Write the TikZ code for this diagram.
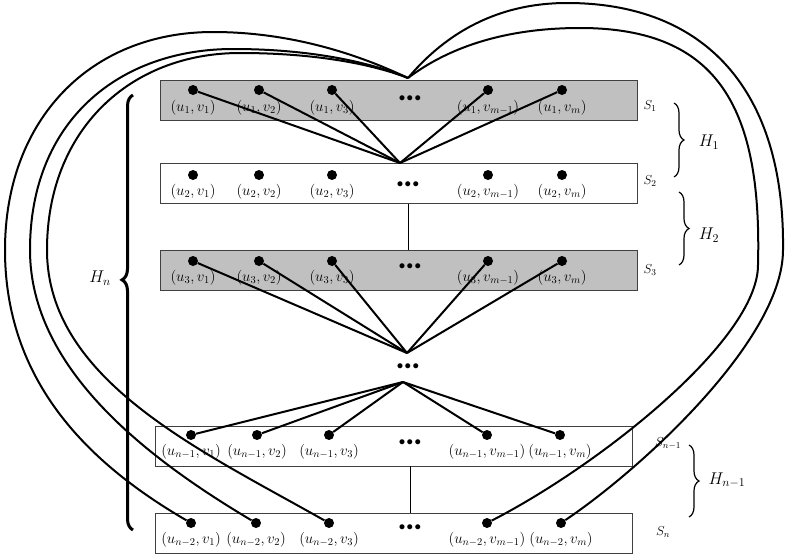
\documentclass[tikz,border=0pt]{standalone}
\usepackage{fix-cm}
\usetikzlibrary{positioning,decorations.pathreplacing}
\definecolor{rowgray}{RGB}{192,192,192}
\newcommand{\rowdots}{$\bullet$\kern1.5pt$\bullet$\kern1.5pt$\bullet$}
\tikzset{
  dot/.style={circle, fill=black, inner sep=0pt, minimum size=10pt},
  lbl/.style={font=\fontsize{15}{17}\selectfont, inner sep=0pt},
  slbl/.style={font=\fontsize{13}{15}\selectfont, inner sep=0pt},
  ell/.style={font=\fontsize{13}{13}\selectfont, inner sep=0pt},
  rowbox/.style={draw=black!75, line width=0.8pt, minimum width=477pt, minimum height=40pt, inner sep=0pt},
  fan/.style={line width=2pt},
  heart/.style={line width=2pt},
  link/.style={line width=0.6pt},
  hbrace/.style={decorate, decoration={brace, amplitude=10pt}, line width=1.2pt},
  big/.style={font=\fontsize{17}{17}\selectfont},
}
\begin{document}
\begin{tikzpicture}[x=1pt, y=-1pt]
  \useasboundingbox (0,0) rectangle (785,557);
  % rows of the product
  \node [rowbox, fill=rowgray] (r1) at (398.5,100.5) {};
  \node [rowbox, fill=white] (r2) at (398.5,183.5) {};
  \node [rowbox, fill=rowgray] (r3) at (398.5,270.5) {};
  \node [rowbox, fill=white] (r4) at (394,446) {};
  \node [rowbox, fill=white] (r5) at (394,533) {};
  \coordinate (hub1) at (400,163);
  \coordinate (hub3) at (407,353);
  \coordinate (hub4) at (403,382);
  \coordinate (apex) at (408,78);
  % S_1
  \node [dot] (a1) at (193,90) {};  \node [lbl, below=5pt of a1] (la1) {$(u_1,v_1)$};
  \node [dot] (a2) at (259,90) {};  \node [lbl, below=5pt of a2] (la2) {$(u_1,v_2)$};
  \node [dot] (a3) at (332,90) {};  \node [lbl, below=5pt of a3] (la3) {$(u_1,v_3)$};
  \node [dot] (a4) at (488,90) {};  \node [lbl, below=5pt of a4] (la4) {$(u_1,v_{m-1})$};
  \node [dot] (a5) at (562,90) {};  \node [lbl, below=5pt of a5] (la5) {$(u_1,v_m)$};
  \node [ell] (ea) at (410,99) {\rowdots};
  % S_2
  \node [dot] (b1) at (193,175) {};  \node [lbl, below=4pt of b1] (lb1) {$(u_2,v_1)$};
  \node [dot] (b2) at (259,175) {};  \node [lbl, below=4pt of b2] (lb2) {$(u_2,v_2)$};
  \node [dot] (b3) at (332,175) {};  \node [lbl, below=4pt of b3] (lb3) {$(u_2,v_3)$};
  \node [dot] (b4) at (488,175) {};  \node [lbl, below=4pt of b4] (lb4) {$(u_2,v_{m-1})$};
  \node [dot] (b5) at (562,175) {};  \node [lbl, below=4pt of b5] (lb5) {$(u_2,v_m)$};
  \node [ell] (eb) at (408,185) {\rowdots};
  % S_3
  \node [dot] (c1) at (193,261) {};  \node [lbl, below=4pt of c1] (lc1) {$(u_3,v_1)$};
  \node [dot] (c2) at (259,261) {};  \node [lbl, below=4pt of c2] (lc2) {$(u_3,v_2)$};
  \node [dot] (c3) at (332,261) {};  \node [lbl, below=4pt of c3] (lc3) {$(u_3,v_3)$};
  \node [dot] (c4) at (488,261) {};  \node [lbl, below=4pt of c4] (lc4) {$(u_3,v_{m-1})$};
  \node [dot] (c5) at (562,261) {};  \node [lbl, below=4pt of c5] (lc5) {$(u_3,v_m)$};
  \node [ell] (ec) at (410,267) {\rowdots};
  % S_{n-1}
  \node [dot] (d1) at (191,435) {};  \node [lbl, below=4pt of d1] (ld1) {$(u_{n-1},v_1)$};
  \node [dot] (d2) at (257,435) {};  \node [lbl, below=4pt of d2] (ld2) {$(u_{n-1},v_2)$};
  \node [dot] (d3) at (329,435) {};  \node [lbl, below=4pt of d3] (ld3) {$(u_{n-1},v_3)$};
  \node [dot] (d4) at (487,435) {};  \node [lbl, below=4pt of d4] (ld4) {$(u_{n-1},v_{m-1})$};
  \node [dot] (d5) at (560,435) {};  \node [lbl, below=4pt of d5] (ld5) {$(u_{n-1},v_m)$};
  \node [ell] (ed) at (410,443) {\rowdots};
  % S_n
  \node [dot] (e1) at (191,523) {};  \node [lbl, below=4pt of e1] (le1) {$(u_{n-2},v_1)$};
  \node [dot] (e2) at (256,523) {};  \node [lbl, below=4pt of e2] (le2) {$(u_{n-2},v_2)$};
  \node [dot] (e3) at (329,523) {};  \node [lbl, below=4pt of e3] (le3) {$(u_{n-2},v_3)$};
  \node [dot] (e4) at (487,523) {};  \node [lbl, below=4pt of e4] (le4) {$(u_{n-2},v_{m-1})$};
  \node [dot] (e5) at (561,523) {};  \node [lbl, below=4pt of e5] (le5) {$(u_{n-2},v_m)$};
  \node [ell] (ee) at (410,528) {\rowdots};
  \node [ell] (mid) at (408,367) {\rowdots};
  % thin links between rows
  \draw [link] (r2.south -| eb) -- (r3.north -| eb);
  \draw [link] (r4.south -| ed) -- (r5.north -| ed);
  % fans
  \draw [fan] (a1) -- (hub1);  \draw [fan] (a2) -- (hub1);  \draw [fan] (a3) -- (hub1);
  \draw [fan] (a4) -- (hub1);  \draw [fan] (a5) -- (hub1);
  \draw [fan] (c1) -- (hub3);  \draw [fan] (c2) -- (hub3);  \draw [fan] (c3) -- (hub3);
  \draw [fan] (c4) -- (hub3);  \draw [fan] (c5) -- (hub3);
  \draw [fan] (d1) -- (hub4);  \draw [fan] (d2) -- (hub4);  \draw [fan] (d3) -- (hub4);
  \draw [fan] (d4) -- (hub4);  \draw [fan] (d5) -- (hub4);
  % the heart
  \draw [heart] (e1) .. controls (100,470) and (5,390) .. (5,250)
                     .. controls (5,120) and (90,32) .. (213,32)
                     .. controls (300,32) and (370,60) .. (apex);
  \draw [heart] (e2) .. controls (150,460) and (30,370) .. (30,250)
                     .. controls (30,120) and (120,49) .. (233,49)
                     .. controls (310,49) and (370,62) .. (apex);
  \draw [heart] (e3) .. controls (200,450) and (47,380) .. (47,250)
                     .. controls (47,130) and (130,53) .. (240,53)
                     .. controls (315,53) and (372,64) .. (apex);
  \draw [heart] (e5) .. controls (640,470) and (783,340) .. (783,250)
                     .. controls (785,90) and (705,3) .. (567,3)
                     .. controls (490,3) and (440,40) .. (apex);
  \draw [heart] (e4) .. controls (600,465) and (758,340) .. (758,265)
                     .. controls (762,110) and (720,28) .. (580,28)
                     .. controls (500,28) and (445,50) .. (apex);
  % row names
  \node [slbl] (s1) at (650,106) {$S_1$};
  \node [slbl] (s2) at (650,181) {$S_2$};
  \node [slbl] (s3) at (650,270) {$S_3$};
  \node [slbl] (s4) at (668,443) {$S_{n-1}$};
  \node [slbl] (s5) at (663,532) {$S_n$};
  % braces
  \draw [hbrace] (674,103) -- (674,177);
  \draw [hbrace] (679,192) -- (679,265);
  \draw [hbrace] (689,445) -- (689,517);
  \draw [decorate, decoration={brace, amplitude=11pt, aspect=0.575}, line width=3pt] (133,530) -- (133,95);
  \node [big] (h1) at (709,142) {$H_1$};
  \node [big] (h2) at (709,235) {$H_2$};
  \node [big] (h4) at (727,480) {$H_{n-1}$};
  \node [big] (hn) at (100,278) {$H_n$};
\end{tikzpicture}
\end{document}
